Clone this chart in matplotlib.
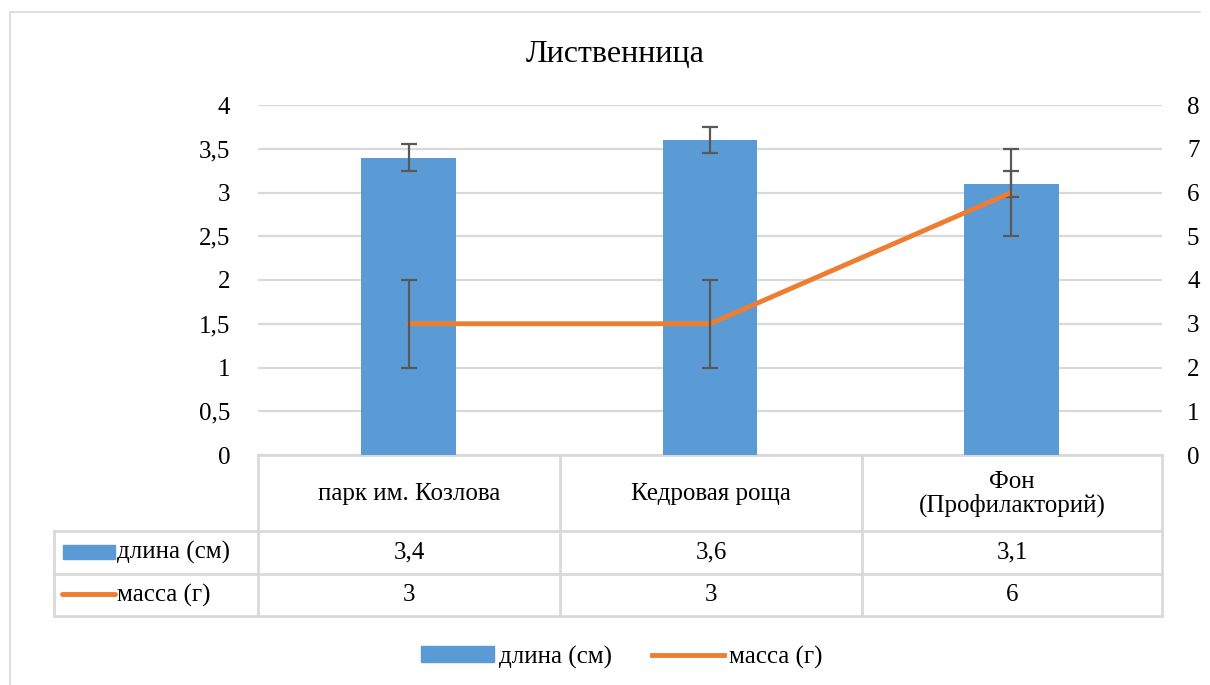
import matplotlib.pyplot as plt
import matplotlib.patches as mpatches
from matplotlib.lines import Line2D
import numpy as np

FAM = 'Liberation Serif'

title = 'Лиственница'
categories = ['парк им. Козлова', 'Кедровая роща', 'Фон\n(Профилакторий)']
length_cm = [3.4, 3.6, 3.1]
length_err = [0.15, 0.15, 0.15]
mass_g = [3, 3, 6]
mass_err = [1, 1, 1]
series_names = ['длина (см)', 'масса (г)']
left_ticks = [0, 0.5, 1, 1.5, 2, 2.5, 3, 3.5, 4]
right_ticks = [0, 1, 2, 3, 4, 5, 6, 7, 8]

BLUE = '#5b9bd5'
ORANGE = '#ed7d31'
GRID = '#d9d9d9'
ERR = '#595959'
FS = 18


def fmt(v):
    return ('%g' % v).replace('.', ',')


W, H = 1210, 685
fig = plt.figure(figsize=(W / 100, H / 100), dpi=100)

# page overlay in pixel coordinates (for border + data table)
page = fig.add_axes([0, 0, 1, 1], zorder=0)
page.set_xlim(0, W)
page.set_ylim(H, 0)
page.axis('off')
page.plot([10, 10, 1200], [H + 5, 12, 12], color=GRID, lw=1.2)

# plot area
px0, px1, py0, py1 = 258, 1162, 105, 455
ax = fig.add_axes([px0 / W, 1 - py1 / H, (px1 - px0) / W, (py1 - py0) / H], zorder=2)
ax.patch.set_alpha(0)
x = np.arange(len(categories))
ax.bar(x, length_cm, width=0.315, color=BLUE, zorder=2)
ax.errorbar(x, length_cm, yerr=length_err, fmt='none', ecolor=ERR,
            elinewidth=1.6, capsize=6, capthick=1.6, zorder=3)
ax.set_xlim(-0.5, len(categories) - 0.5)
ax.set_ylim(0, 4)
ax.set_yticks(left_ticks)
ax.set_yticklabels([fmt(t) for t in left_ticks])
ax.yaxis.grid(True, color=GRID, lw=1.6, zorder=0)
ax.set_axisbelow(True)
ax.set_xticks([])
for s in ax.spines.values():
    s.set_visible(False)
ax.tick_params(axis='y', length=0, pad=20)

ax2 = ax.twinx()
ax2.plot(x, mass_g, color=ORANGE, lw=3.5, zorder=4, solid_capstyle='round')
ax2.errorbar(x, mass_g, yerr=mass_err, fmt='none', ecolor=ERR,
             elinewidth=1.6, capsize=6, capthick=1.6, zorder=5)
ax2.set_ylim(0, 8)
ax2.set_yticks(right_ticks)
ax2.set_yticklabels([fmt(t) for t in right_ticks])
for s in ax2.spines.values():
    s.set_visible(False)
ax2.tick_params(axis='y', length=0, pad=18)
ax2.set_xlim(-0.5, len(categories) - 0.5)

for lab in ax.get_yticklabels() + ax2.get_yticklabels():
    lab.set_fontfamily(FAM)
    lab.set_fontsize(FS)

fig.text(615 / W, 1 - 55 / H, title, ha='center', va='center', fontsize=23, fontfamily=FAM)

# data table
cols = [258, 560, 862, 1162]
rows = [455, 531, 574, 616]
tleft = 54
lkw = dict(color=GRID, lw=2)
page.plot([cols[0], cols[-1]], [rows[0], rows[0]], **lkw)
for r in rows[1:]:
    page.plot([tleft, cols[-1]], [r, r], **lkw)
for c in cols:
    page.plot([c, c], [rows[0], rows[-1]], **lkw)
page.plot([tleft, tleft], [rows[1], rows[-1]], **lkw)

tkw = dict(ha='center', va='center', fontsize=FS, fontfamily=FAM)
for i, cat in enumerate(categories):
    cx = (cols[i] + cols[i + 1]) / 2
    page.text(cx, (rows[0] + rows[1]) / 2 + 1, cat, linespacing=1.05, **tkw)
    page.text(cx, (rows[1] + rows[2]) / 2, fmt(length_cm[i]), **tkw)
    page.text(cx, (rows[2] + rows[3]) / 2, fmt(mass_g[i]), **tkw)

page.add_patch(mpatches.Rectangle((63, 545), 52, 14, color=BLUE))
page.plot([62, 115], [594, 594], color=ORANGE, lw=3.5, solid_capstyle='round')
page.text(117, (rows[1] + rows[2]) / 2, series_names[0], ha='left', va='center',
          fontsize=FS, fontfamily=FAM)
page.text(117, (rows[2] + rows[3]) / 2, series_names[1], ha='left', va='center',
          fontsize=FS, fontfamily=FAM)

handles = [mpatches.Patch(color=BLUE, label=series_names[0]),
           Line2D([0], [0], color=ORANGE, lw=3.5, label=series_names[1])]
fig.legend(handles=handles, loc='center', bbox_to_anchor=(622 / W, 1 - 657 / H),
           ncol=2, frameon=False, prop=dict(family=FAM, size=FS), handlelength=2.9,
           handleheight=0.6, handletextpad=0.2, columnspacing=1.6)

fig.savefig('out.png', dpi=100)
